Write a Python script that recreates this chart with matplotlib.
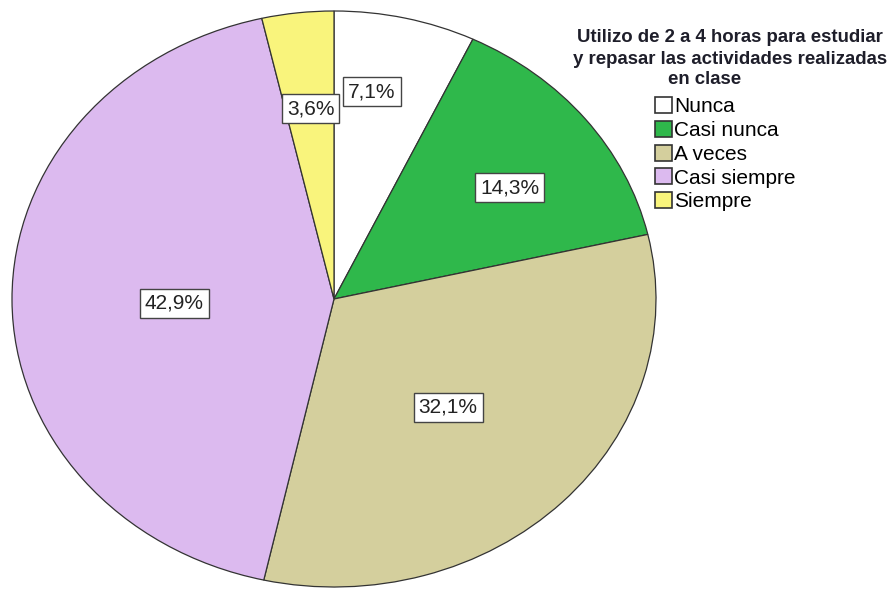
import numpy as np
import matplotlib
matplotlib.use("Agg")
import matplotlib.pyplot as plt

categories = ["Nunca", "Casi nunca", "A veces", "Casi siempre", "Siempre"]
percentages = [7.1, 14.3, 32.1, 42.9, 3.6]
colors = ["#ffffff", "#2fb84b", "#d4cf9d", "#dcbaef", "#f9f47c"]
title_lines = ["Utilizo de 2 a 4 horas para estudiar",
               "y repasar las actividades realizadas",
               "en clase"]
# placement of each percentage label: fraction of radius and angular nudge (deg)
label_radius = [0.729, 0.668, 0.516, 0.496, 0.664]
label_shift = [3.5, -3.4, -1.8, 1.6, -0.2]

plt.rcParams["font.family"] = ["Liberation Sans", "DejaVu Sans"]

W, H = 894, 589
fig = plt.figure(figsize=(W / 100, H / 100), dpi=100)
fig.patch.set_facecolor("white")

# axes spanning the (elliptical) pie area
left, right, top, bottom = 12, 656, 11, 587
ax = fig.add_axes([left / W, 1 - bottom / H, (right - left) / W, (bottom - top) / H])

wedges, _ = ax.pie(percentages, colors=colors, startangle=90, counterclock=False,
                   wedgeprops=dict(edgecolor="#333333", linewidth=0.9),
                   radius=1.0)
ax.set_aspect("auto")
ax.set_xlim(-1.0, 1.0)
ax.set_ylim(-1.0, 1.0)
ax.axis("off")

for w, p, r, s in zip(wedges, percentages, label_radius, label_shift):
    mid = np.deg2rad((w.theta1 + w.theta2) / 2 + s)
    ax.text(r * np.cos(mid), r * np.sin(mid), f"{p:.1f}%".replace(".", ","),
            ha="center", va="center", fontsize=15, color="#222222",
            bbox=dict(boxstyle="square,pad=0.24", fc="white", ec="#444444", lw=1.0))

# title, one line at a time (last line sits left of centre)
title_x = [730, 730, 705]
title_y = [36, 57, 77]
for txt, x, y in zip(title_lines, title_x, title_y):
    fig.text(x / W, 1 - y / H, txt, ha="center", va="center_baseline",
             fontsize=13.4, fontweight="bold", color="#1e1e2a")

handles = [plt.Rectangle((0, 0), 1, 1, fc=c, ec="#333333", lw=1.2) for c in colors]
fig.legend(handles, categories, loc="upper left",
           bbox_to_anchor=(655 / W, 1 - 97 / H), frameon=False,
           fontsize=15, handlelength=0.8, handleheight=0.8,
           handletextpad=0.12, labelspacing=0.22, borderaxespad=0, borderpad=0)

fig.savefig("out.png", dpi=100)
